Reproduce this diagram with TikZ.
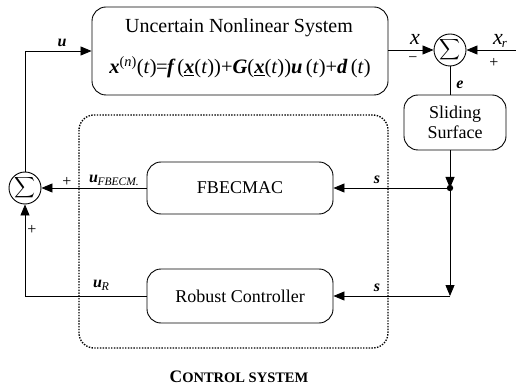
\documentclass[tikz,border=0pt]{standalone}
\usepackage{fontspec}
\setmainfont{Liberation Serif}
\usetikzlibrary{arrows.meta,calc}
\newcommand{\bi}[1]{{\bfseries\itshape #1}}
\newcommand{\ul}[1]{\underline{\smash{\bfseries\itshape #1}}}
\newcommand{\bigsum}{\scalebox{1.45}{$\displaystyle\sum$}}
\begin{document}
\begin{tikzpicture}[x=1pt,y=-1pt,
  box/.style={draw,line width=0.9pt,rounded corners=14pt,inner sep=0pt},
  sumc/.style={draw,circle,line width=0.9pt,minimum size=32pt,inner sep=0pt},
  conn/.style={line width=0.8pt},
  arr/.style={conn,-{Triangle[length=11pt,width=9pt]}},
  lbl/.style={inner sep=0pt,font=\fontsize{16}{16}\selectfont\bfseries\itshape},
  sgn/.style={inner sep=0pt,font=\fontsize{16}{16}\selectfont},
  txt/.style={inner sep=0pt,font=\fontsize{18}{20}\selectfont,align=center}]
\useasboundingbox (0,0) rectangle (516,387);
% blocks
\node[box,minimum width=296pt,minimum height=88pt] (plant) at (240,51) {};
\node[txt,font=\fontsize{20}{20}\selectfont,anchor=base] (title) at (239,33) {Uncertain Nonlinear System};
\node[txt,font=\fontsize{20.5}{20.5}\selectfont,anchor=base] (eq) at (240,74) {\bi{x}\textsuperscript{(\textit{n})}(\textit{t})\kern-0.5pt=\kern-0.5pt\bi{f}\,(\ul{x}(\textit{t}))+\bi{G}(\ul{x}(\textit{t}))\bi{u}\,(\textit{t})+\bi{d}\,(\textit{t})};
\node[sumc] (sumR) at (450,50) {\bigsum};
\node[box,txt,minimum width=102pt,minimum height=55pt] (slide) at (455,122.5) {Sliding\\Surface};
\node[box,txt,minimum width=186pt,minimum height=52pt] (fbec) at (240,188) {FBECMAC};
\node[box,txt,minimum width=186pt,minimum height=54pt] (robust) at (240,296) {Robust Controller};
\node[sumc] (sumL) at (25,188) {\bigsum};
\draw[line width=1.4pt,dash pattern=on 1.4pt off 1.4pt,rounded corners=15pt] (79,115) rectangle (388,348);
\node[inner sep=0pt,anchor=base,font=\fontsize{17.5}{17.5}\selectfont\bfseries] (cs) at (239,382) {C{\fontsize{14.5}{14.5}\selectfont ONTROL SYSTEM}};
% coordinates
\coordinate (xr) at (516,50);
\coordinate (jn) at (450,188);
\coordinate (c2) at (450,296);
% connectors
\draw[arr] (plant.east |- sumR) -- (sumR);
\draw[arr] (xr) -- (sumR);
\draw[conn] (sumR.south) -- (sumR.south |- slide.north);
\draw[arr] (sumR.south |- slide.south) -- (jn);
\fill (jn) circle (3.2pt);
\draw[arr] (jn) -- (fbec.east);
\draw[arr] (jn) -- (c2);
\draw[arr] (c2) -- (robust.east);
\draw[arr] (fbec.west) -- (sumL);
\draw[arr] (robust.west) -| (sumL);
\draw[arr] (sumL) |- (plant.west);
% labels
\node[inner sep=0pt,font=\fontsize{22}{22}\selectfont\itshape,anchor=base] (lx) at (415,45) {x};
\node[sgn] (mx) at (413,60) {−};
\node[inner sep=0pt,font=\fontsize{22}{22}\selectfont\itshape,anchor=base] (lxr) at (500,45) {x\kern-1pt\raisebox{-3pt}{\fontsize{13}{13}\selectfont r}};
\node[sgn] (pxr) at (494,63) {+};
\node[lbl] (le) at (460,85) {e};
\node[lbl] (ls1) at (377,180) {s};
\node[lbl] (ls2) at (377,288) {s};
\node[lbl] (lu) at (62,43) {u};
\node[sgn] (p1) at (67,182) {+};
\node[lbl,anchor=base west] (luf) at (89,183) {u\kern-0.5pt\raisebox{-3pt}{\fontsize{11.5}{11.5}\selectfont\mdseries\itshape FBECM.}};
\node[sgn] (p2) at (32,230) {+};
\node[lbl,anchor=base west] (lur) at (93,287) {u\kern-0.5pt\raisebox{-3pt}{\fontsize{12}{12}\selectfont\mdseries\itshape R}};
\end{tikzpicture}
\end{document}
